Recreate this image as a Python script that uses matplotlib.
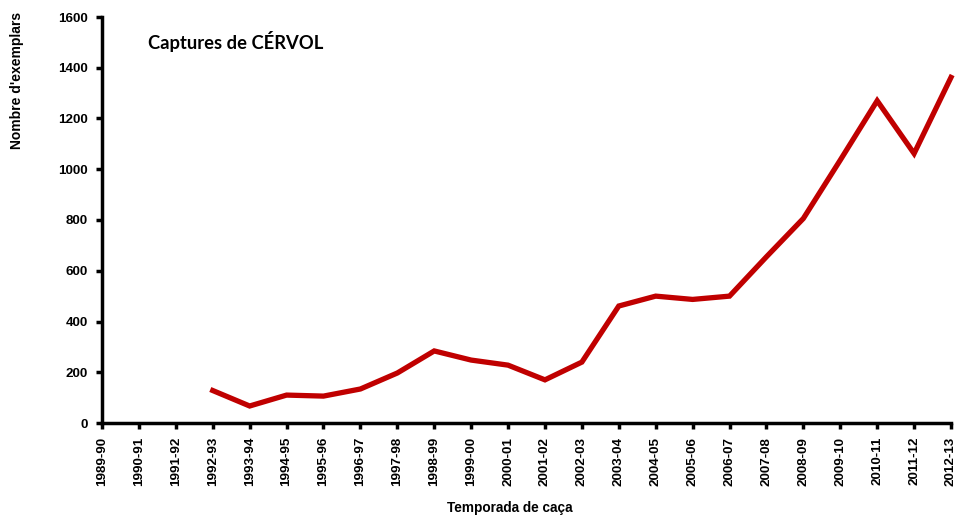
import matplotlib
matplotlib.use("Agg")
import matplotlib.pyplot as plt
import numpy as np

seasons = ["1989-90", "1990-91", "1991-92", "1992-93", "1993-94", "1994-95",
           "1995-96", "1996-97", "1997-98", "1998-99", "1999-00", "2000-01",
           "2001-02", "2002-03", "2003-04", "2004-05", "2005-06", "2006-07",
           "2007-08", "2008-09", "2009-10", "2010-11", "2011-12", "2012-13"]
captures = [np.nan, np.nan, np.nan, 128, 67, 110, 106, 134, 197, 284, 248, 228,
            170, 240, 461, 500, 487, 500, 655, 806, 1036, 1270, 1062, 1362]
yticks = [0, 200, 400, 600, 800, 1000, 1200, 1400, 1600]

plt.rcParams['font.family'] = ['Liberation Sans', 'DejaVu Sans']

fig = plt.figure(figsize=(9.62, 5.17), dpi=100)
ax = fig.add_axes([102/962, 1-423/517, (951-102)/962, (423-17)/517])

x = np.arange(len(seasons))
ax.plot(x, captures, color="#C00000", lw=3.8, solid_joinstyle="miter", clip_on=False)

ax.set_xlim(0, len(seasons)-1)
ax.set_ylim(0, 1600)
ax.set_xticks(x)
ax.set_xticklabels(seasons, rotation=90, fontsize=9.6, fontweight="bold")
ax.set_yticks(yticks)
ax.set_yticklabels([str(v) for v in yticks], fontsize=9.6, fontweight="bold")

for s in ["top", "right"]:
    ax.spines[s].set_visible(False)
for s in ["left", "bottom"]:
    ax.spines[s].set_linewidth(2.5)
ax.tick_params(axis="both", width=2.5, length=4, direction="out", pad=6)

fig.text(17/962, 1-80/517, "Nombre d'exemplars", rotation=90, ha="center", va="center",
         fontsize=10, fontweight="bold")
fig.text(510/962, 1-508/517, "Temporada de caça", ha="center", va="center",
         fontsize=9.8, fontweight="bold")
fig.text(148/962, 1-42/517, "Captures de CÉRVOL", ha="left", va="center",
         fontsize=13.2, fontweight="bold", family=["Lato", "DejaVu Sans"])

fig.savefig("out.png", dpi=100)
